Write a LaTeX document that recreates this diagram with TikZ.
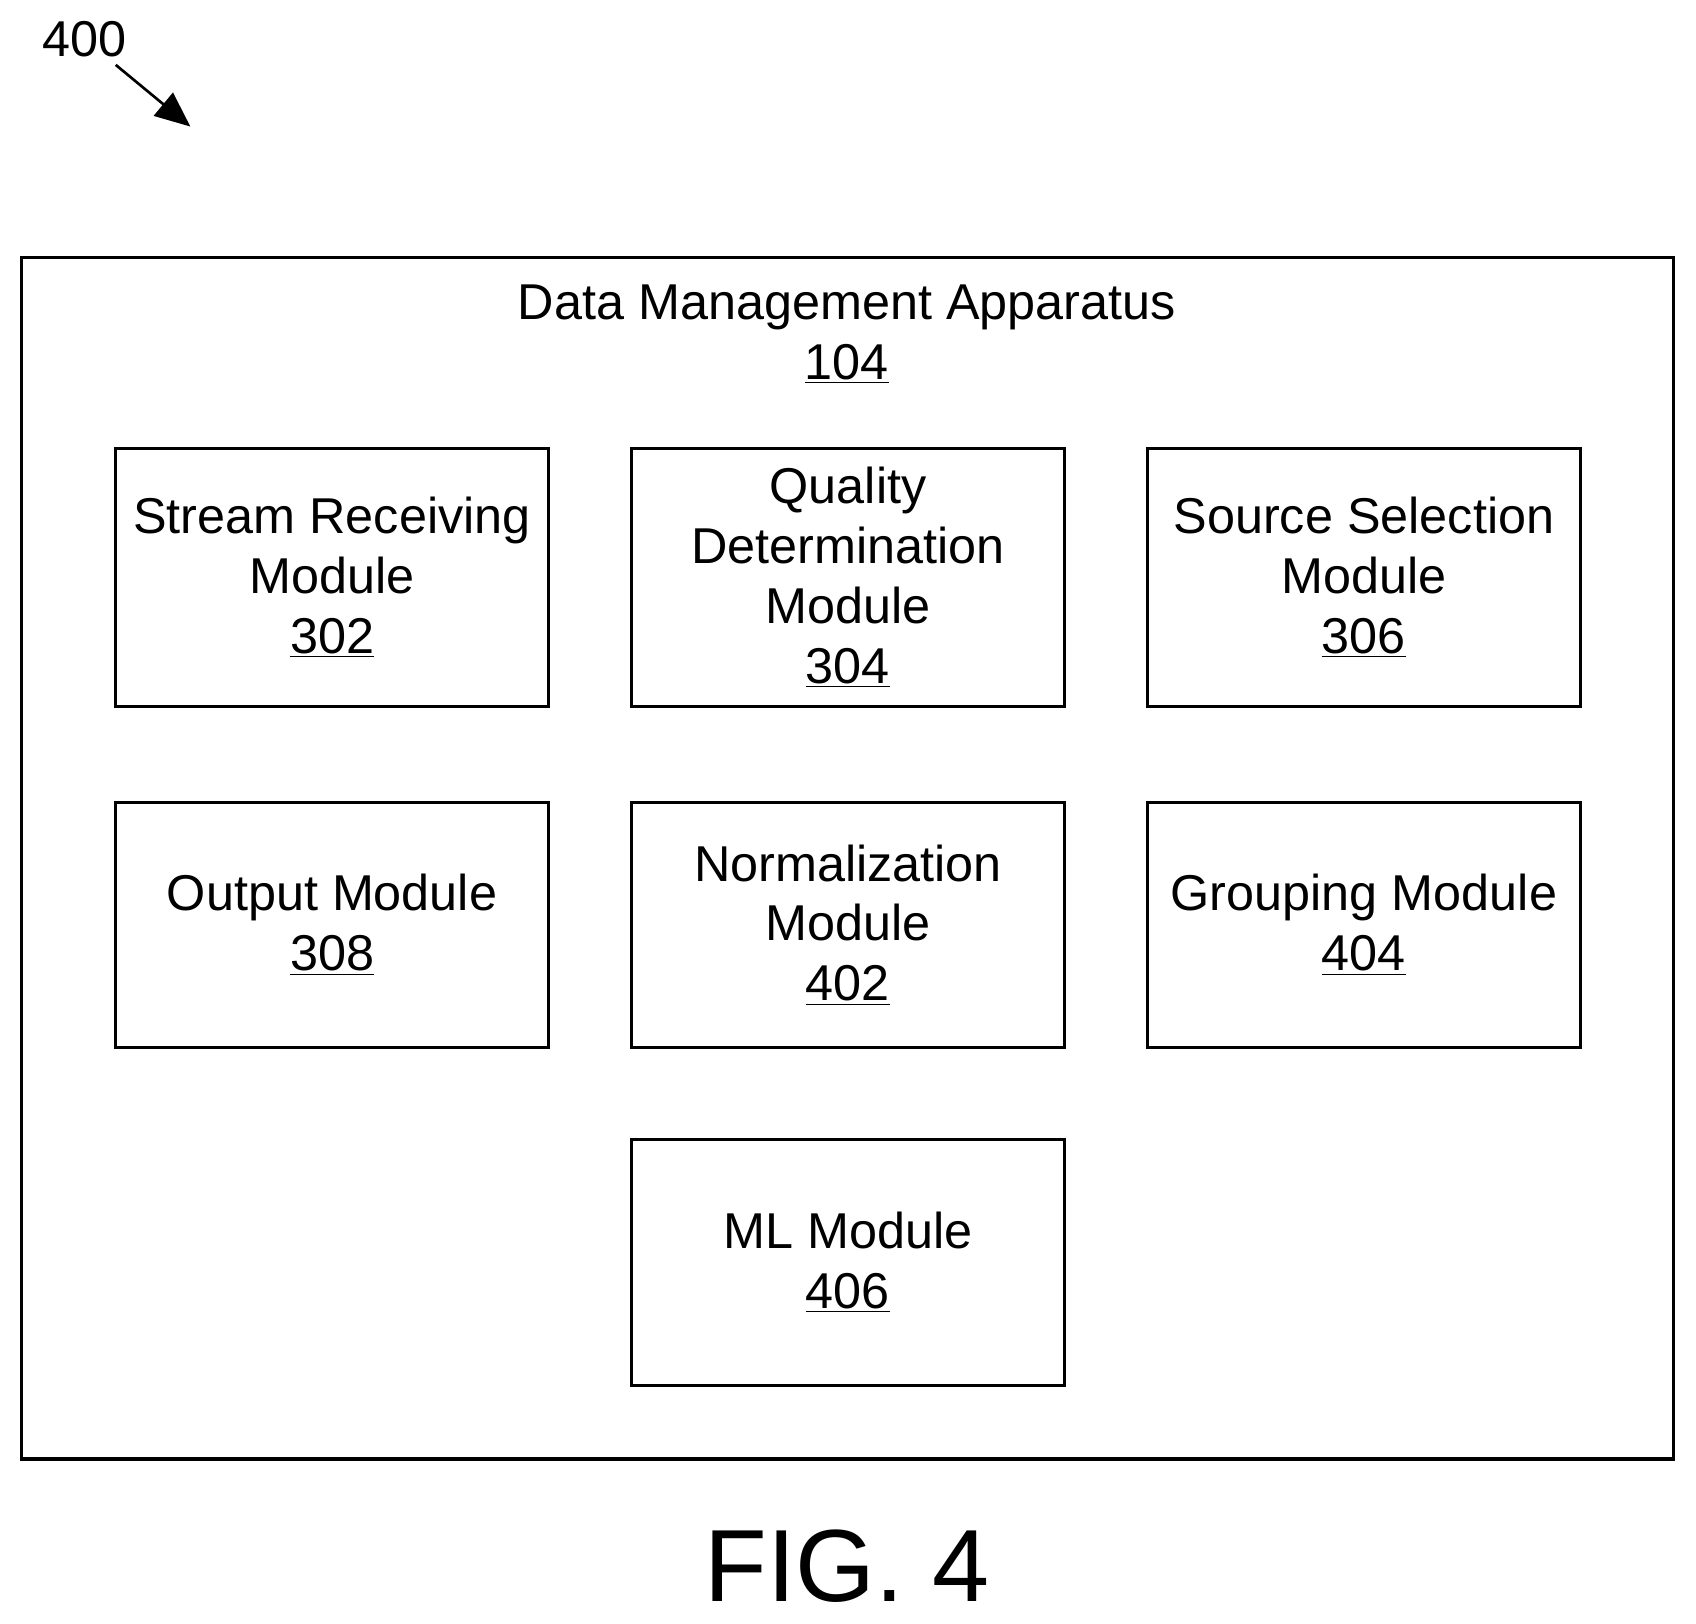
\documentclass[tikz,border=0pt]{standalone}
\usepackage{fontspec}
\setmainfont{Liberation Sans}
\usetikzlibrary{arrows.meta}
\tikzset{
  module/.style={draw, line width=1.6pt, minimum width=8cm, minimum height=4.76cm,
    align=center, font=\fontsize{26.5}{31.5}\selectfont, inner sep=0pt},
  lowmodule/.style={module, minimum height=4.54cm}
}
\begin{document}
\begin{tikzpicture}[x=0.02cm, y=-0.02cm]
        \useasboundingbox (0,0) rectangle (1568,1501);
        \node[font=\fontsize{26.5}{32}\selectfont] (fig) at (78,36) {400};
        \coordinate (tip) at (176,117);
        \draw[-{Triangle[length=0.65cm, width=0.55cm]}, line width=1.4pt] (107,60) -- (tip);

        \draw[line width=1.8pt] (20,238) rectangle (1547,1349);
        \node[align=center, font=\fontsize{26.5}{31.5}\selectfont] (dma) at (783,309)
          {Data Management Apparatus\\\underline{104}};

        \node[module] (302) at (307,534) {Stream Receiving\\Module\\\underline{302}};
        \node[module] (304) at (784,534) {Quality\\Determination\\Module\\\underline{304}};
        \node[module] (306) at (1261,534) {Source Selection\\Module\\\underline{306}};

        \node[lowmodule] (308) at (307,855) {Output Module\\\underline{308}};
        \node[lowmodule] (402) at (784,855) {Normalization\\Module\\\underline{402}};
        \node[lowmodule] (404) at (1261,855) {Grouping Module\\\underline{404}};

        \node[lowmodule] (406) at (784,1167) {ML Module\\\underline{406}};

        \node[font=\fontsize{54}{60}\selectfont] (cap) at (783,1448) {FIG. 4};
\end{tikzpicture}
\end{document}
